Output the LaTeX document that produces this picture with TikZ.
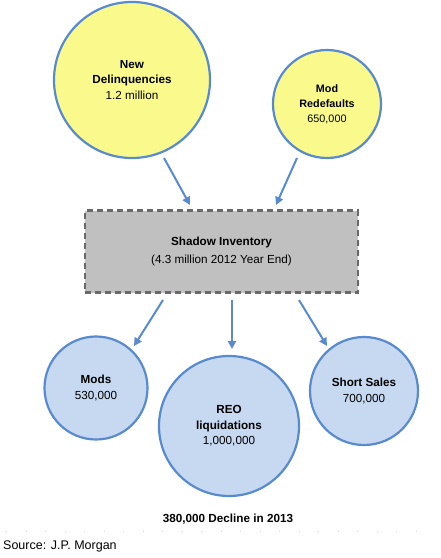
\documentclass[tikz,border=0pt]{standalone}
\usepackage{fontspec}
\setmainfont{Liberation Sans}
\usetikzlibrary{arrows.meta}
\definecolor{cblue}{RGB}{88,138,208}
\definecolor{cyel}{RGB}{250,250,140}
\definecolor{clblue}{RGB}{198,217,241}
\definecolor{cgray}{RGB}{192,192,192}
\definecolor{cdash}{RGB}{105,105,105}
\begin{document}
\begin{tikzpicture}[x=1pt,y=-1pt,
  circ/.style={circle, draw=cblue, line width=2.2pt, inner sep=0pt, minimum size=#1, align=center, font=\fontsize{11.7}{15.5}\selectfont},
  ycirc/.style={circ=#1, fill=cyel},
  bcirc/.style={circ=#1, fill=clblue},
  shadow/.style={draw=cdash, fill=cgray, line width=2.2pt, dash pattern=on 6pt off 4pt, minimum width=273pt, minimum height=82pt, inner sep=0pt, align=center, font=\fontsize{11.7}{18.5}\selectfont},
  arr/.style={draw=cblue, line width=2pt, -{Triangle[length=8pt,width=8pt]}},
  lbl/.style={inner sep=0pt, font=\fontsize{11.7}{13}\selectfont}]
\useasboundingbox (0,0) rectangle (440,558);
\node[ycirc=156] (nd) at (132,80) {\textbf{New}\\\textbf{Delinquencies}\\1.2 million};
\node[ycirc=108, font=\fontsize{10.8}{15}\selectfont] (mr) at (327,104) {\textbf{Mod}\\\textbf{Redefaults}\\650,000};
\node[shadow] (si) at (221.5,251.5) {\textbf{Shadow Inventory}\\(4.3 million 2012 Year End)};
\node[bcirc=103] (mo) at (96,388) {\textbf{Mods}\\530,000};
\node[bcirc=140] (re) at (229,426) {\textbf{REO}\\\textbf{liquidations}\\1,000,000};
\node[bcirc=108] (ss) at (364,391) {\textbf{Short Sales}\\700,000};
\coordinate (a1s) at (164,158); \coordinate (a1e) at (190,205);
\coordinate (a2s) at (297,158); \coordinate (a2e) at (276,205);
\coordinate (a3s) at (163,300); \coordinate (a3e) at (134,346);
\coordinate (a4s) at (232,300); \coordinate (a4e) at (232,349);
\coordinate (a5s) at (299,300); \coordinate (a5e) at (327,346);
\draw[arr] (a1s) -- (a1e);
\draw[arr] (a2s) -- (a2e);
\draw[arr] (a3s) -- (a3e);
\draw[arr] (a4s) -- (a4e);
\draw[arr] (a5s) -- (a5e);
\node[lbl] (dec) at (228,519) {\textbf{380,000 Decline in 2013}};
\coordinate (dl) at (6,531); \coordinate (dr) at (425,531);
\draw[gray!35, line width=0.8pt, dash pattern=on 0.8pt off 18.7pt] (dl) -- (dr);
\node[lbl, anchor=west, font=\fontsize{12.5}{14}\selectfont] (src) at (3,546) {Source: J.P. Morgan};
\end{tikzpicture}
\end{document}
